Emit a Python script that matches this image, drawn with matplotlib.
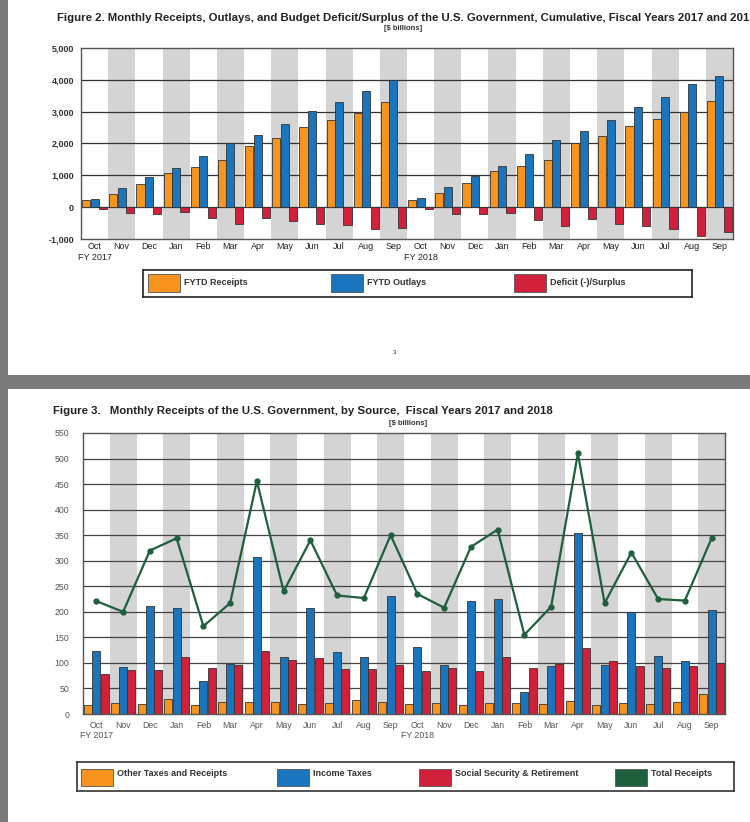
import numpy as np
import matplotlib
matplotlib.use("Agg")
import matplotlib.pyplot as plt
from matplotlib.patches import Rectangle
from matplotlib import font_manager

# ---- data ($ billions) ----
months = ["Oct", "Nov", "Dec", "Jan", "Feb", "Mar", "Apr", "May", "Jun", "Jul", "Aug", "Sep"]
month_labels = ["Oct\nFY 2017"] + months[1:] + ["Oct\nFY 2018"] + months[1:]

# figure 2: cumulative, FY2017 then FY2018
fytd_receipts = [221, 421, 741, 1085, 1257, 1474, 1930, 2170, 2509, 2741, 2968, 3316,
                 235, 443, 770, 1131, 1286, 1496, 2006, 2223, 2539, 2764, 2986, 3330]
fytd_outlays = [266, 604, 947, 1243, 1606, 2001, 2275, 2604, 3032, 3307, 3641, 3982,
                298, 647, 993, 1307, 1677, 2096, 2392, 2753, 3146, 3450, 3884, 4108]
fytd_deficit = [-45, -183, -206, -158, -349, -527, -344, -433, -523, -566, -674, -666,
                -63, -205, -224, -176, -391, -600, -385, -532, -607, -684, -898, -779]

# figure 3: monthly receipts by source
other_taxes = [18, 22, 20, 30, 18, 24, 24, 24, 20, 22, 28, 24,
               19, 21, 17, 21, 21, 19, 25, 17, 21, 19, 23, 39]
income_taxes = [123, 92, 212, 207, 65, 98, 308, 111, 208, 122, 111, 230,
                131, 96, 222, 226, 43, 94, 355, 96, 200, 114, 103, 204]
social_security = [79, 87, 86, 111, 90, 96, 124, 105, 110, 88, 88, 96,
                   84, 90, 84, 112, 90, 98, 129, 103, 94, 90, 94, 99]
total_receipts = [221, 200, 320, 344, 172, 217, 456, 240, 340, 232, 227, 350,
                  235, 208, 327, 361, 155, 210, 510, 217, 316, 225, 222, 344]

fig2_labels = ["FYTD Receipts", "FYTD Outlays", "Deficit (-)/Surplus"]
fig3_labels = ["Other Taxes and Receipts", "Income Taxes", "Social Security & Retirement", "Total Receipts"]

ORANGE = "#f7941d"
BLUE = "#1b75bc"
RED = "#d1203a"
GREEN = "#1e5f3c"
BAND = "#d4d4d4"

names = {f.name for f in font_manager.fontManager.ttflist}
NARROW = "Liberation Sans Narrow" if "Liberation Sans Narrow" in names else "Liberation Sans"
ARIAL = "Liberation Sans"

W, H = 750, 822
fig = plt.figure(figsize=(W / 100, H / 100), dpi=100, facecolor="#7b7b7b")


def px_axes(x0, y0, x1, y1, **kw):
    # pixel box (top-left origin) -> figure axes
    return fig.add_axes([x0 / W, 1 - y1 / H, (x1 - x0) / W, (y1 - y0) / H], **kw)


# white pages
fig.patches.append(Rectangle((8 / W, 1 - 375 / H), 1, 375 / H, transform=fig.transFigure,
                             facecolor="white", edgecolor="none", zorder=-10))
fig.patches.append(Rectangle((8 / W, 0), 1, 1 - 389 / H, transform=fig.transFigure,
                             facecolor="white", edgecolor="none", zorder=-10))

x = np.arange(24)
bw = 0.3
off = 0.31


def style_axes(ax, edge):
    ax.set_xlim(-0.5, 23.5)
    for i in x[1::2]:
        ax.axvspan(i - 0.5, i + 0.5, color=BAND, lw=0, zorder=0)
    for s in ax.spines.values():
        s.set_color(edge)
        s.set_linewidth(1.0)
    ax.tick_params(length=0)
    ax.set_xticks(x)
    ax.set_xticklabels(month_labels)


# ---------------- Figure 2 ----------------
ax1 = px_axes(81, 48, 733, 239)
style_axes(ax1, "#555555")
ax1.set_ylim(-1000, 5000)
ax1.set_yticks(np.arange(-1000, 5001, 1000))
ax1.set_yticklabels([f"{v:,}" for v in range(-1000, 5001, 1000)])
for v in range(0, 5000, 1000):
    ax1.axhline(v, color="#333333", lw=0.9, zorder=1)
ax1.bar(x - off, fytd_receipts, bw, color=ORANGE, edgecolor="#333333", lw=0.6, zorder=2)
ax1.bar(x, fytd_outlays, bw, color=BLUE, edgecolor="#333333", lw=0.6, zorder=2)
ax1.bar(x + off, fytd_deficit, bw, color=RED, edgecolor="#333333", lw=0.6, zorder=2)
for lab in ax1.get_xticklabels():
    lab.set_fontfamily(NARROW)
    lab.set_fontsize(6.5)
    lab.set_color("#222222")
for lab in ax1.get_yticklabels():
    lab.set_fontfamily(NARROW)
    lab.set_fontsize(6.5)
    lab.set_fontweight("bold")
    lab.set_color("#333333")
ax1.tick_params(axis="x", pad=2.5)
ax1.tick_params(axis="y", pad=5)

fig.text(57 / W, 1 - 18 / H,
         "Figure 2. Monthly Receipts, Outlays, and Budget Deficit/Surplus of the U.S. Government, "
         "Cumulative, Fiscal Years 2017 and 2018",
         family=NARROW, weight="bold", fontsize=8.2, color="#222222", va="center", ha="left")
fig.text(403 / W, 1 - 29 / H, "[$ billions]", family=NARROW, weight="bold", fontsize=5.5,
         color="#333333", va="center", ha="center")

# legend figure 2
lg1 = px_axes(143, 270, 692, 297)
lg1.set_xlim(143, 692)
lg1.set_ylim(297, 270)
lg1.set_xticks([])
lg1.set_yticks([])
for s in lg1.spines.values():
    s.set_color("#222222")
    s.set_linewidth(1.2)
for xp, lab, col in zip([148, 331, 514], fig2_labels, [ORANGE, BLUE, RED]):
    lg1.add_patch(Rectangle((xp, 274), 32, 18, facecolor=col, edgecolor="#555555", lw=0.6))
    lg1.text(xp + 36, 282.5, lab, family=ARIAL, weight="bold", fontsize=6.5, color="#333333",
             va="center", ha="left")

fig.text(395 / W, 1 - 352 / H, "3", family=ARIAL, fontsize=4.5, color="#333333",
         ha="center", va="center")

# ---------------- Figure 3 ----------------
ax2 = px_axes(83, 433, 725, 714)
style_axes(ax2, "#555555")
ax2.set_ylim(0, 550)
ax2.set_yticks(np.arange(0, 551, 50))
for v in range(50, 550, 50):
    ax2.axhline(v, color="#444444", lw=0.9, zorder=1)
ax2.bar(x - off, other_taxes, bw, color=ORANGE, edgecolor="#333333", lw=0.6, zorder=2)
ax2.bar(x, income_taxes, bw, color=BLUE, edgecolor="#333333", lw=0.6, zorder=2)
ax2.bar(x + off, social_security, bw, color=RED, edgecolor="#333333", lw=0.6, zorder=2)
ax2.plot(x, total_receipts, color=GREEN, lw=1.6, marker="o", ms=3.5, zorder=3)
for lab in ax2.get_xticklabels() + ax2.get_yticklabels():
    lab.set_fontfamily(ARIAL)
    lab.set_fontsize(6.3)
    lab.set_color("#555555")
ax2.tick_params(axis="x", pad=5)
ax2.tick_params(axis="y", pad=10)

fig.text(53 / W, 1 - 411 / H,
         "Figure 3.   Monthly Receipts of the U.S. Government, by Source,  Fiscal Years 2017 and 2018",
         family=ARIAL, weight="bold", fontsize=8.2, color="#222222", va="center", ha="left")
fig.text(408 / W, 1 - 423 / H, "[$ billions]", family=ARIAL, weight="bold", fontsize=5.5,
         color="#333333", va="center", ha="center")

lg2 = px_axes(77, 762, 734, 791)
lg2.set_xlim(77, 734)
lg2.set_ylim(791, 762)
lg2.set_xticks([])
lg2.set_yticks([])
for s in lg2.spines.values():
    s.set_color("#333333")
    s.set_linewidth(1.2)
for xp, lab, col in zip([81, 277, 419, 615], fig3_labels, [ORANGE, BLUE, RED, GREEN]):
    lg2.add_patch(Rectangle((xp, 769), 32, 17, facecolor=col, edgecolor="#555555", lw=0.6))
    lg2.text(xp + 36, 773.5, lab, family=ARIAL, weight="bold", fontsize=6.5, color="#333333",
             va="center", ha="left")

fig.savefig("out.png", dpi=100, facecolor=fig.get_facecolor())
